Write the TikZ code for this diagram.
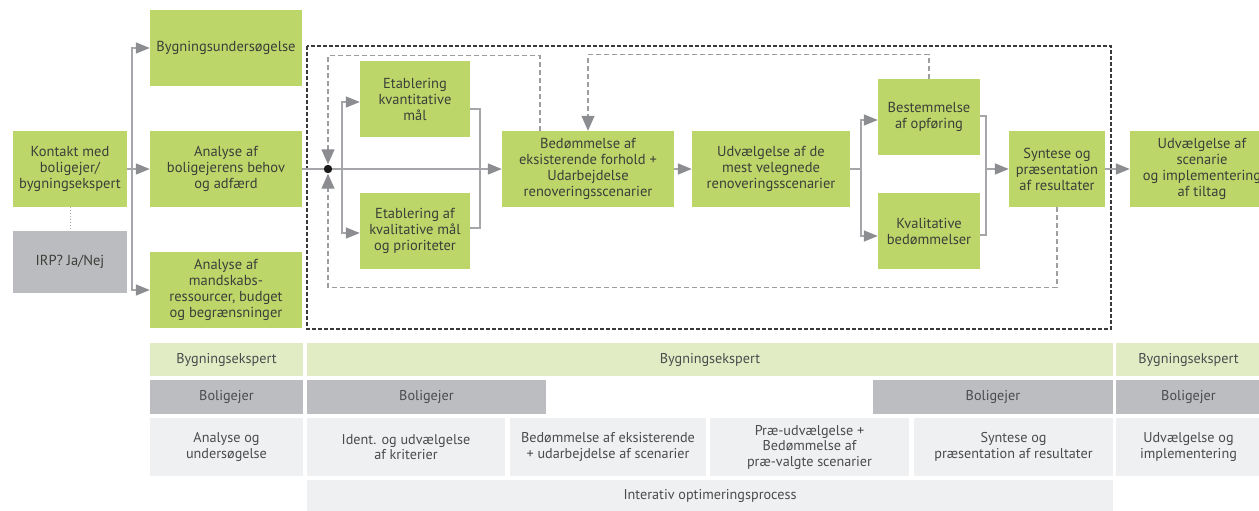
\documentclass[tikz,border=0pt]{standalone}
\usepackage{fontspec}
\setmainfont{PT Sans}
\usetikzlibrary{arrows.meta}
\definecolor{boxgreen}{HTML}{BDD66A}
\definecolor{boxgray}{HTML}{BBBCBF}
\definecolor{txt}{HTML}{3B3F38}
\definecolor{btxt}{HTML}{4A4B4D}
\definecolor{lgreen}{HTML}{E2ECC4}
\definecolor{mgray}{HTML}{BCBDC0}
\definecolor{lgray}{HTML}{EFF0F2}
\definecolor{conncol}{HTML}{A4A6A9}
\definecolor{headcol}{HTML}{8C8D90}
\definecolor{dashcol}{HTML}{9C9DA0}
\definecolor{framecol}{HTML}{3A3A3A}
\begin{document}
\begin{tikzpicture}[x=1pt,y=-1pt,
  gbox/.style={fill=boxgreen, draw=none, align=center, text=txt, inner sep=1pt,
    font=\fontsize{14.5}{16}\selectfont},
  graybox/.style={gbox, fill=boxgray},
  cell/.style={draw=none, align=center, text=btxt, inner sep=1pt,
    font=\fontsize{14.2}{15.5}\selectfont},
  conn/.style={draw=conncol, line width=1.5pt},
  arr/.style={conn, -{Triangle[length=14pt,width=11pt,color=headcol]}},
  dconn/.style={draw=dashcol, line width=1.3pt, dash pattern=on 5pt off 3pt},
  darr/.style={dconn, -{Triangle[length=15pt,width=13pt,color=headcol,fill=headcol]}},
]
\useasboundingbox (0,0) rectangle (1259,511);

% outer dashed frame
\draw[framecol, line width=1.3pt, dash pattern=on 4pt off 2pt] (307,46) rectangle (1111,329);

% boxes
\node[gbox, minimum width=114pt, minimum height=76pt] (kontakt) at (70,169) {Kontakt med\\boligejer/\\bygningsekspert};
\node[graybox, minimum width=114pt, minimum height=62pt] (irp) at (70,262) {IRP? Ja/Nej};
\node[gbox, minimum width=152pt, minimum height=76pt] (byg) at (226,48) {Bygningsundersøgelse};
\node[gbox, minimum width=152pt, minimum height=76pt] (beh) at (226,169) {Analyse af\\boligejerens behov\\og adfærd};
\node[gbox, minimum width=152pt, minimum height=76pt] (mand) at (226,290) {Analyse af\\mandskabs-\\ressourcer, budget\\og begrænsninger};
\node[gbox, minimum width=110pt, minimum height=76pt] (kvant) at (415,99) {Etablering\\kvantitative\\mål};
\node[gbox, minimum width=110pt, minimum height=76pt] (kval) at (415,231) {Etablering af\\kvalitative mål\\og prioriteter};
\node[gbox, minimum width=172pt, minimum height=76pt] (bed) at (588,169) {Bedømmelse af\\eksisterende forhold +\\Udarbejdelse\\renoveringsscenarier};
\node[gbox, minimum width=158pt, minimum height=76pt] (udv) at (771,169) {Udvælgelse af de\\mest velegnede\\renoveringsscenarier};
\node[gbox, minimum width=102pt, minimum height=76pt] (best) at (929,117) {Bestemmelse\\af opføring};
\node[gbox, minimum width=102pt, minimum height=76pt] (kvb) at (929,231) {Kvalitative\\bedømmelser};
\node[gbox, minimum width=96pt, minimum height=76pt] (syn) at (1057,169) {Syntese og\\præsentation\\af resultater};
\node[gbox, minimum width=144pt, minimum height=76pt] (impl) at (1202,169) {Udvælgelse af\\scenarie\\og implementering\\af tiltag};

% dotted link
\draw[conncol, line width=1pt, dotted] (kontakt.south) -- (irp.north);

% left fan-out
\coordinate (b1) at (132,169);
\draw[conn] (kontakt.east) -- (b1);
\draw[arr] (b1) |- (byg.west);
\draw[arr] (b1) |- (mand.west);
\draw[arr] (b1) -- (beh.west);

% main line with dot
\node[circle, inner sep=0pt, minimum size=9pt] (dot) at (328,169) {};
\draw[arr] (beh.east) -- (bed.west);
\coordinate (b2) at (342,169);
\draw[arr] (b2) |- ([yshift=-3pt]kvant.west);
\draw[arr] (b2) |- ([yshift=-2pt]kval.west);
\coordinate (j1) at (480,169);
\draw[conn] ([yshift=-10pt]kvant.east) -| (j1);
\draw[conn] ([yshift=3pt]kval.east) -| (j1);

\draw[arr] (bed.east) -- (udv.west);
\coordinate (b3) at (861,169);
\draw[conn] (udv.east) -- (b3);
\draw[arr] (b3) |- ([yshift=-3pt]best.west);
\draw[arr] (b3) |- ([yshift=-5pt]kvb.west);
\coordinate (j2) at (986,169);
\draw[conn] ([yshift=1pt]best.east) -| (j2);
\draw[conn] ([yshift=-4pt]kvb.east) -| (j2);
\draw[arr] (j2) -- (syn.west);
\draw[arr] (syn.east) -- (impl.west);

% dashed feedback loops
\draw[darr] ([xshift=-48pt]bed.north) -- ++(0,-75) -| (dot.north);
\draw[darr] (syn.south) -- ++(0,80) -| (dot.south);
\draw[darr] (best.north) -- ++(0,-24) -| (bed.north);
\fill[black!90] (dot.center) circle (4.2pt);

% bottom table
\node[cell, fill=lgreen, minimum width=153pt, minimum height=33pt] (r11) at (226.5,359.5) {Bygningsekspert};
\node[cell, fill=lgreen, minimum width=806pt, minimum height=33pt] (r12) at (710,359.5) {Bygningsekspert};
\node[cell, fill=lgreen, minimum width=145pt, minimum height=33pt] (r13) at (1188.5,359.5) {Bygningsekspert};

\node[cell, fill=mgray, minimum width=153pt, minimum height=34pt] (r21) at (226.5,397) {Boligejer};
\node[cell, fill=mgray, minimum width=239pt, minimum height=34pt] (r22) at (426.5,397) {Boligejer};
\node[cell, fill=mgray, minimum width=240pt, minimum height=34pt] (r23) at (993,397) {Boligejer};
\node[cell, fill=mgray, minimum width=145pt, minimum height=34pt] (r24) at (1188.5,397) {Boligejer};

\node[cell, fill=lgray, minimum width=153pt, minimum height=58pt] (r31) at (226.5,447) {Analyse og\\undersøgelse};
\node[cell, fill=lgray, minimum width=198pt, minimum height=58pt] (r32) at (406,447) {Ident. og udvælgelse\\af kriterier};
\node[cell, fill=lgray, minimum width=196pt, minimum height=58pt] (r33) at (608,447) {Bedømmelse af eksisterende\\+ udarbejdelse af scenarier};
\node[cell, fill=lgray, minimum width=199pt, minimum height=58pt] (r34) at (809.5,447) {Præ-udvælgelse +\\Bedømmelse af\\præ-valgte scenarier};
\node[cell, fill=lgray, minimum width=199pt, minimum height=58pt] (r35) at (1013.5,447) {Syntese og\\præsentation af resultater};
\node[cell, fill=lgray, minimum width=145pt, minimum height=58pt] (r36) at (1188.5,447) {Udvælgelse og\\implementering};

\node[cell, fill=lgray, minimum width=806pt, minimum height=32pt] (r41) at (710,496) {Interativ optimeringsprocess};
\end{tikzpicture}
\end{document}
